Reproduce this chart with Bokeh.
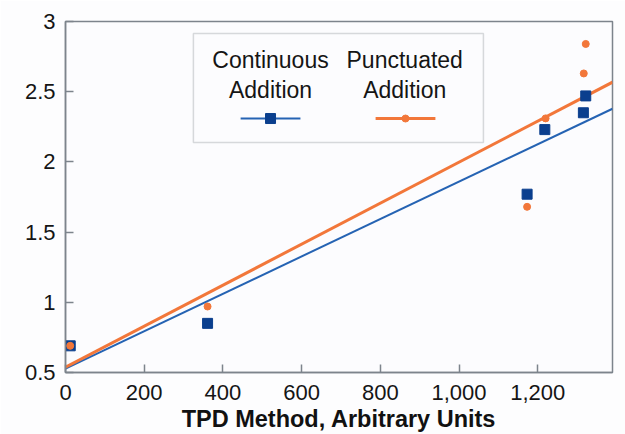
import numpy as np
from bokeh.plotting import figure
from bokeh.models import Range1d, FixedTicker, NumeralTickFormatter, BoxAnnotation, ColumnDataSource
from bokeh.core.properties import value
from bokeh.embed import file_html
from bokeh.resources import INLINE

# ---- data ----
tpd_cont = [12, 361, 1173, 1218, 1316, 1322]
cont = [0.69, 0.85, 1.77, 2.23, 2.35, 2.47]
tpd_punc = [12, 361, 1173, 1220, 1317, 1322]
punc = [0.69, 0.97, 1.68, 2.31, 2.63, 2.84]
series = ["Continuous\nAddition", "Punctuated\nAddition"]
x_ticks = [0, 200, 400, 600, 800, 1000, 1200]
y_ticks = [0.5, 1, 1.5, 2, 2.5, 3]
y_tick_labels = ["0.5", "1", "1.5", "2", "2.5", "3"]
x_title = "TPD Method, Arbitrary Units"

BLUE_PT = "#0b3f8e"
BLUE_LN = "#2563b3"
ORANGE = "#f2773a"
FRAME = "#7d848c"
FONT = "Liberation Sans"

X_MAX = 1390
p = figure(width=625, height=434, x_range=Range1d(0, X_MAX), y_range=Range1d(0.5, 3),
           output_backend="svg", toolbar_location=None,
           min_border_left=65, min_border_right=13, min_border_top=21, min_border_bottom=62,
           background_fill_color="#fcfcfe", border_fill_color="#fdfdfe")
p.xgrid.visible = False
p.ygrid.visible = False
p.outline_line_color = FRAME
p.outline_line_width = 1.5

for ax in (p.xaxis[0], p.yaxis[0]):
    ax.axis_line_color = FRAME
    ax.axis_line_width = 1.5
    ax.major_tick_line_color = FRAME
    ax.major_tick_line_width = 1.5
    ax.major_tick_in = 8
    ax.major_tick_out = 0
    ax.minor_tick_line_color = None
    ax.major_label_text_font = FONT
    ax.major_label_text_font_size = "22px"
    ax.major_label_text_color = "#151515"

p.xaxis.ticker = FixedTicker(ticks=x_ticks)
p.xaxis.formatter = NumeralTickFormatter(format="0,0")
p.xaxis.major_label_standoff = 12
p.xaxis.axis_label = x_title
p.xaxis.axis_label_text_font = FONT
p.xaxis.axis_label_text_font_style = "bold"
p.xaxis.axis_label_text_font_size = "23.5px"
p.xaxis.axis_label_text_color = "#111111"
p.xaxis.axis_label_standoff = 3

p.yaxis.ticker = FixedTicker(ticks=y_ticks)
p.yaxis.major_label_overrides = {t: s for t, s in zip(y_ticks, y_tick_labels)}
p.yaxis.major_label_standoff = 10

# ---- trend lines (least-squares fits of each series) ----
fit_x = np.array([0, X_MAX])
bc = np.polyfit(tpd_cont, cont, 1)
oc = np.polyfit(tpd_punc, punc, 1)
p.line(fit_x, np.polyval(bc, fit_x), line_color=BLUE_LN, line_width=2)
p.line(fit_x, np.polyval(oc, fit_x), line_color=ORANGE, line_width=3)

# ---- points ----
p.scatter(tpd_cont, cont, marker="square", size=10, fill_color=BLUE_PT, line_color=BLUE_PT)
p.scatter(tpd_punc, punc, marker="circle", size=7, fill_color=ORANGE, line_color=ORANGE)

# ---- custom legend (layout positions in axis units) ----
p.add_layout(BoxAnnotation(left=325, right=1062, bottom=2.138, top=2.915,
                           fill_alpha=0, line_color=FRAME, line_width=1.5))
leg = ColumnDataSource(dict(x=[521, 862], y=[2.619, 2.619], t=series))
p.text(x="x", y="y", text="t", source=leg, text_align="center", text_baseline="middle",
       text_font=value(FONT), text_font_size="23px", text_color="#151515", text_line_height=1.15)
p.line([445, 597], [2.309, 2.309], line_color=BLUE_LN, line_width=2)
p.scatter([521], [2.309], marker="square", size=10, fill_color=BLUE_PT, line_color=BLUE_PT)
p.line([788, 940], [2.309, 2.309], line_color=ORANGE, line_width=3)
p.scatter([864], [2.309], marker="circle", size=7, fill_color=ORANGE, line_color=ORANGE)

open("out.html", "w").write(file_html(p, INLINE))
